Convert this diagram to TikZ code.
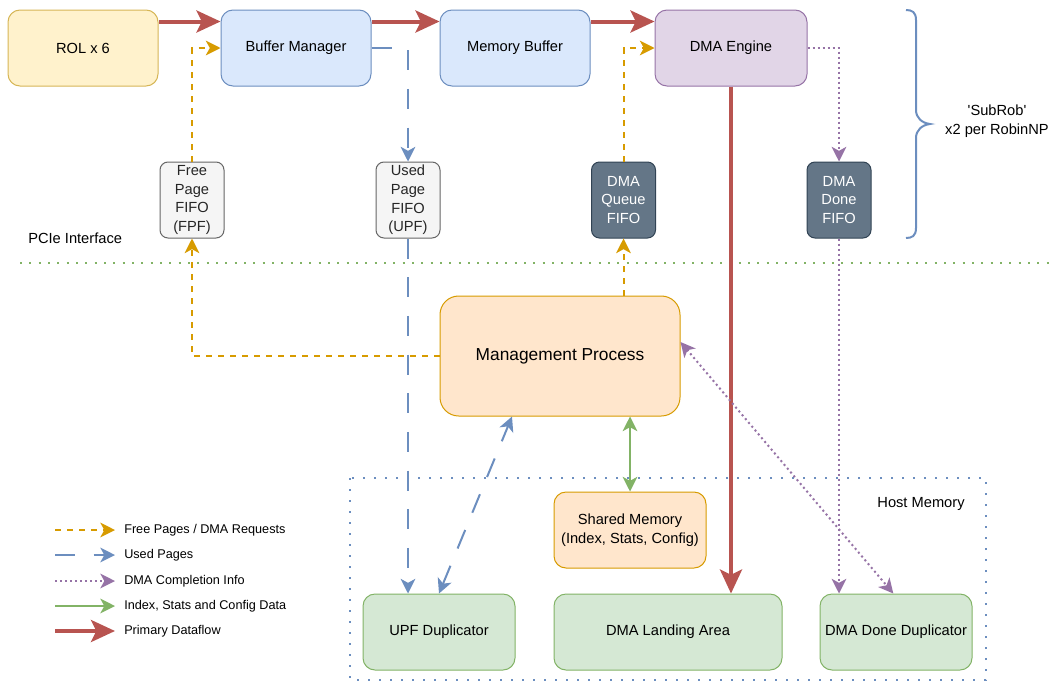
\documentclass[tikz,border=0pt]{standalone}
\usepackage{fontspec}
\setmainfont{Liberation Sans}[Ligatures=TeXOff]
\usetikzlibrary{arrows.meta,calc}
\definecolor{cRed}{HTML}{B85450}
\definecolor{cOrg}{HTML}{D79B00}
\definecolor{cBlue}{HTML}{6C8EBF}
\definecolor{cPur}{HTML}{9673A6}
\definecolor{cGrn}{HTML}{82B366}
\definecolor{fYel}{HTML}{FFF2CC}
\definecolor{sYel}{HTML}{D6B656}
\definecolor{fBlue}{HTML}{DAE8FC}
\definecolor{fPur}{HTML}{E1D5E7}
\definecolor{fGry}{HTML}{F5F5F5}
\definecolor{sGry}{HTML}{666666}
\definecolor{fSlate}{HTML}{647687}
\definecolor{sSlate}{HTML}{314354}
\definecolor{fOrg}{HTML}{FFE6CC}
\definecolor{fGrn}{HTML}{D5E8D4}
\tikzset{
  box/.style={draw, line width=0.75pt, rounded corners=9pt, align=center, inner sep=0pt,
    font=\fontsize{11}{14}\selectfont, minimum height=57pt, minimum width=112.5pt},
  yel/.style={box, fill=fYel, draw=sYel},
  blu/.style={box, fill=fBlue, draw=cBlue},
  pur/.style={box, fill=fPur, draw=cPur},
  grn/.style={box, fill=fGrn, draw=cGrn},
  org/.style={box, fill=fOrg, draw=cOrg},
  fifo/.style={box, minimum width=48pt, rounded corners=6pt, fill=fGry, draw=sGry, text=black!85},
  dfifo/.style={fifo, fill=fSlate, draw=sSlate, text=white},
  smallhead/.style={-{Stealth[length=11pt,width=11pt,inset=3pt]}},
  bothhead/.style={{Stealth[length=11pt,width=11pt,inset=3pt]}-{Stealth[length=11pt,width=11pt,inset=3pt]}},
  redflow/.style={draw=cRed, line width=3pt, -{Stealth[length=18pt,width=16.5pt,inset=4pt]}},
  freeflow/.style={draw=cOrg, line width=1.5pt, dash pattern=on 4.5pt off 4.5pt, smallhead},
  usedflow/.style={draw=cBlue, line width=1.5pt, dash pattern=on 15pt off 14pt, smallhead},
  doneflow/.style={draw=cPur, line width=1.5pt, dash pattern=on 1.5pt off 2.25pt, smallhead},
  dataflow/.style={draw=cGrn, line width=1.5pt, bothhead},
  lbl/.style={font=\fontsize{11}{14}\selectfont, align=center, inner sep=0pt},
  leg/.style={font=\fontsize{9.5}{11}\selectfont, anchor=west, inner sep=0pt}
}
\begin{document}
\begin{tikzpicture}[x=0.75pt,y=-0.75pt]
\useasboundingbox (0,0) rectangle (1052,682);
% zones
\draw[draw=cGrn, line width=1.5pt, dash pattern=on 1.5pt off 5.5pt] (20,263) -- (1052,263);
\node[lbl, anchor=west] (pcie) at (28,238) {PCIe Interface};
\draw[draw=cBlue, line width=1.5pt, dash pattern=on 1.5pt off 6.75pt] (350,478) rectangle (986,680);
\node[lbl] (hostmem) at (921,504) {Host Memory};
% boxes
\node[yel] (rol) at (83,48) {ROL x 6};
\node[blu] (bm) at (296,48) {Buffer Manager};
\node[blu] (mb) at (515,48) {Memory Buffer};
\node[pur, minimum width=114pt] (dma) at (731,48) {DMA Engine};
\node[fifo] (fpf) at (192,200) {Free\\Page\\FIFO\\(FPF)};
\node[fifo] (upf) at (408,200) {Used\\Page\\FIFO\\(UPF)};
\node[dfifo] (dq) at (623.5,200) {DMA\\Queue\\FIFO};
\node[dfifo] (dd) at (839,200) {DMA\\Done\\FIFO};
\node[org, minimum width=180pt, minimum height=90pt, rounded corners=14pt, font=\fontsize{13}{16}\selectfont] (mp) at (560,356) {Management Process};
\node[org, minimum width=114pt] (sm) at (630,530) {Shared Memory\\(Index, Stats, Config)};
\node[grn, minimum width=114pt] (upfd) at (439,632) {UPF Duplicator};
\node[grn, minimum width=171pt] (dla) at (668,632) {DMA Landing Area};
\node[grn, minimum width=114pt] (ddd) at (896,632) {DMA Done Duplicator};
% primary dataflow
\draw[redflow] ([yshift=-9pt]rol.north east) -- ([yshift=-9pt]bm.north west);
\draw[redflow] ([yshift=-9pt]bm.north east) -- ([yshift=-9pt]mb.north west);
\draw[redflow] ([yshift=-9pt]mb.north east) -- ([yshift=-9pt]dma.north west);
\draw[redflow] (dma.south) -- (dma.south |- dla.north);
% free pages / dma requests
\draw[freeflow] (mp.west) -| (fpf.south);
\draw[freeflow] (fpf.north) |- (bm.west);
\draw[freeflow] (mp.north -| dq.south) -- (dq.south);
\draw[freeflow] (dq.north) |- (dma.west);
% used pages
\draw[usedflow] (bm.east) -| (upf.north);
\draw[usedflow] (upf.south) -- (upf.south |- upfd.north);
\draw[usedflow, bothhead] (upfd.north) -- ([xshift=-36pt]mp.south);
% dma completion
\draw[doneflow] (dma.east) -| (dd.north);
\draw[doneflow] (dd.south) -- (dd.south |- ddd.north);
\draw[doneflow, bothhead] ([yshift=10.5pt]mp.east) -- ([xshift=-2pt]ddd.north);
% config data
\draw[dataflow] (mp.south -| sm.north) -- (sm.north);
% brace
\draw[draw=cBlue, line width=1.5pt] (906,10) .. controls (912,10) and (916,12) .. (916,20)
  -- (916,110) .. controls (916,118) and (922,123) .. (930,124)
  .. controls (922,125) and (916,130) .. (916,138)
  -- (916,228) .. controls (916,236) and (912,238) .. (906,238);
\node[lbl] (subrob) at (997,121) {'SubRob'\\x2 per RobinNP};
% legend
\coordinate (l1a) at (55,530); \coordinate (l1b) at (115,530);
\coordinate (l2a) at (55,555); \coordinate (l2b) at (115,555);
\coordinate (l3a) at (55,581); \coordinate (l3b) at (115,581);
\coordinate (l4a) at (55,606); \coordinate (l4b) at (115,606);
\coordinate (l5a) at (55,631); \coordinate (l5b) at (115,631);
\draw[freeflow] (l1a) -- (l1b);
\draw[usedflow] (l2a) -- (l2b);
\draw[doneflow] (l3a) -- (l3b);
\draw[draw=cGrn, line width=1.5pt, smallhead] (l4a) -- (l4b);
\draw[redflow] (l5a) -- (l5b);
\node[leg] (t1) at (124,530) {Free Pages / DMA Requests};
\node[leg] (t2) at (124,555) {Used Pages};
\node[leg] (t3) at (124,581) {DMA Completion Info};
\node[leg] (t4) at (124,606) {Index, Stats and Config Data};
\node[leg] (t5) at (124,631) {Primary Dataflow};
\end{tikzpicture}
\end{document}
